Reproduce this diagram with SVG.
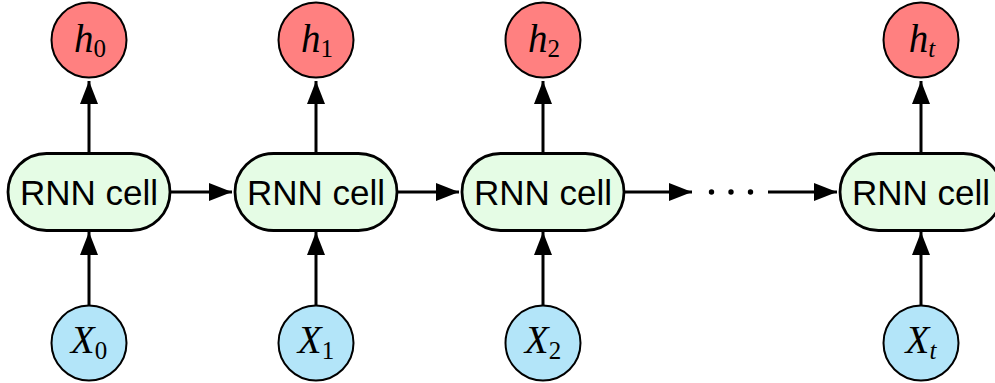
<svg xmlns="http://www.w3.org/2000/svg" width="995" height="383" viewBox="0 0 995 383">
<style>
.cell{fill:#e5fce5;stroke:#000;stroke-width:2.8}
.hn{fill:#ff8080;stroke:#000;stroke-width:2}
.xn{fill:#b3e5f9;stroke:#000;stroke-width:2}
.ct{font-family:"Liberation Sans",Arial,sans-serif;font-size:35px;text-anchor:middle;fill:#000}
.m{font-family:"Liberation Serif","Times New Roman",serif;font-size:39px;font-style:italic;text-anchor:middle;fill:#000}
.s{font-size:25px;font-style:normal}
.si{font-size:25px;font-style:italic}
.ed{stroke:#000;stroke-width:3;fill:none;marker-end:url(#ah)}
</style>
<defs>
<marker id="ah" markerUnits="userSpaceOnUse" markerWidth="23" markerHeight="18" refX="23" refY="9" orient="auto">
<path d="M0,0 L23,9 L0,18 z" fill="#000"/>
</marker>
</defs>
<g id="connectors">
<line class="ed" x1="89" y1="153" x2="89" y2="81"/>
<line class="ed" x1="89" y1="305" x2="89" y2="232"/>
<line class="ed" x1="316" y1="153" x2="316" y2="81"/>
<line class="ed" x1="316" y1="305" x2="316" y2="232"/>
<line class="ed" x1="543" y1="153" x2="543" y2="81"/>
<line class="ed" x1="543" y1="305" x2="543" y2="232"/>
<line class="ed" x1="921" y1="153" x2="921" y2="81"/>
<line class="ed" x1="921" y1="305" x2="921" y2="232"/>
<line class="ed" x1="170" y1="192" x2="232" y2="192"/>
<line class="ed" x1="397" y1="192" x2="459" y2="192"/>
<line class="ed" x1="624" y1="192" x2="692" y2="192"/>
<line class="ed" x1="768" y1="192" x2="837" y2="192"/>
</g>
<g id="dots">
<circle cx="711.5" cy="192" r="2.7" fill="#000"/>
<circle cx="731" cy="192" r="2.7" fill="#000"/>
<circle cx="750.5" cy="192" r="2.7" fill="#000"/>
</g>
<g id="cell0"><rect class="cell" x="8" y="153.5" width="162" height="77" rx="38.5"/><text class="ct" x="89" y="204.5">RNN cell</text></g>
<g id="cell1"><rect class="cell" x="235" y="153.5" width="162" height="77" rx="38.5"/><text class="ct" x="316" y="204.5">RNN cell</text></g>
<g id="cell2"><rect class="cell" x="462" y="153.5" width="162" height="77" rx="38.5"/><text class="ct" x="543" y="204.5">RNN cell</text></g>
<g id="cellt"><rect class="cell" x="840" y="153.5" width="162" height="77" rx="38.5"/><text class="ct" x="921" y="204.5">RNN cell</text></g>
<g id="h0"><circle class="hn" cx="89" cy="40" r="37.5"/><text class="m" x="90" y="51.5">h<tspan class="s" dy="5">0</tspan></text></g>
<g id="h1"><circle class="hn" cx="316" cy="40" r="37.5"/><text class="m" x="317" y="51.5">h<tspan class="s" dy="5">1</tspan></text></g>
<g id="h2"><circle class="hn" cx="543" cy="40" r="37.5"/><text class="m" x="544" y="51.5">h<tspan class="s" dy="5">2</tspan></text></g>
<g id="ht"><circle class="hn" cx="921" cy="40" r="37.5"/><text class="m" x="922" y="51.5">h<tspan class="si" dy="5">t</tspan></text></g>
<g id="x0"><circle class="xn" cx="89" cy="343" r="37.5"/><text class="m" x="89" y="352.5">X<tspan class="s" dy="6.5">0</tspan></text></g>
<g id="x1"><circle class="xn" cx="316" cy="343" r="37.5"/><text class="m" x="316" y="352.5">X<tspan class="s" dy="6.5">1</tspan></text></g>
<g id="x2"><circle class="xn" cx="543" cy="343" r="37.5"/><text class="m" x="543" y="352.5">X<tspan class="s" dy="6.5">2</tspan></text></g>
<g id="xt"><circle class="xn" cx="921" cy="343" r="37.5"/><text class="m" x="921" y="352.5">X<tspan class="si" dy="6.5">t</tspan></text></g>
</svg>
